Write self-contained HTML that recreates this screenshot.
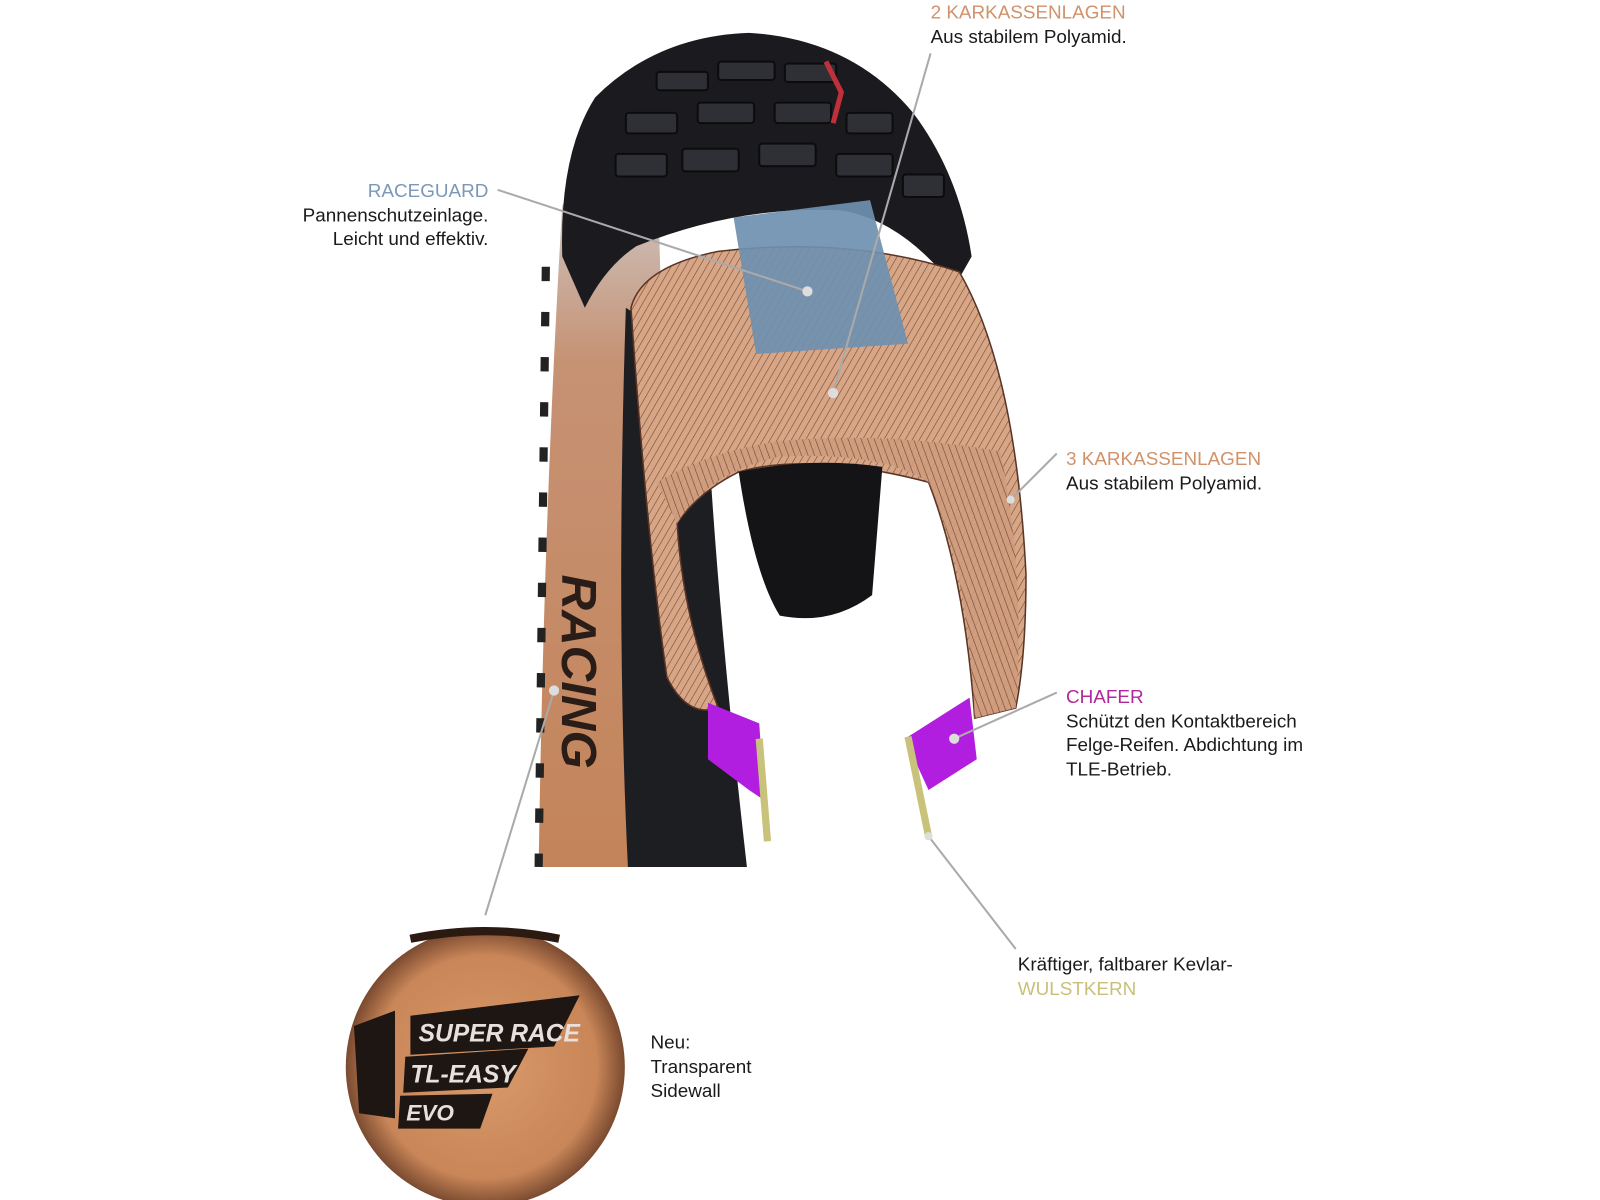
<!DOCTYPE html>
<html><head><meta charset="utf-8"><style>
html,body{margin:0;padding:0;background:#fff;}
.o{width:1600px;height:1200px;overflow:hidden;position:relative;}
.w{position:absolute;left:0;top:0;width:1600px;height:1200px;transform:scale(1.026);transform-origin:0 0;font-family:"Liberation Sans",sans-serif;}
svg{position:absolute;left:0;top:0;}
.t{position:absolute;font-size:18.4px;line-height:23.5px;color:#1a1a1a;white-space:nowrap;}
</style></head><body><div class="o"><div class="w">
<svg width="1600" height="1200" viewBox="0 0 1600 1200">
<defs>
<linearGradient id="side" x1="0" y1="0" x2="0" y2="1">
<stop offset="0" stop-color="#cfd3d8"/><stop offset="0.3" stop-color="#c69274"/><stop offset="1" stop-color="#c4845a"/></linearGradient>
<pattern id="hatch" width="6" height="6" patternUnits="userSpaceOnUse" patternTransform="rotate(30)">
<rect width="6" height="6" fill="#d7a687"/><line x1="0" y1="0" x2="0" y2="6" stroke="#7a4a35" stroke-width="1.2"/></pattern>
<pattern id="hatch2" width="6" height="6" patternUnits="userSpaceOnUse" patternTransform="rotate(-20)">
<rect width="6" height="6" fill="#cf9c7e"/><line x1="0" y1="0" x2="0" y2="6" stroke="#6a3e2c" stroke-width="1.2"/></pattern>
<radialGradient id="ins" cx="0.5" cy="0.5" r="0.5"><stop offset="0" stop-color="#d99a6a"/><stop offset="0.8" stop-color="#c98658"/><stop offset="1" stop-color="#7a4a30"/></radialGradient>
</defs>
<path d="M548 200 Q585 150 640 140 L660 845 L525 845 Q530 500 548 200 Z" fill="url(#side)"/>
<path d="M532 260 L525 845" stroke="#222" stroke-width="8" stroke-dasharray="14 30"/>
<path d="M610 300 Q600 600 612 845 L728 845 Q700 600 690 420 Q660 330 610 300 Z" fill="#1d1e22"/>
<text x="0" y="0" transform="translate(548,560) rotate(90)" font-family="Liberation Sans" font-weight="bold" font-style="italic" font-size="48" fill="#2a1d18">RACING</text>
<path d="M548 250 Q545 150 580 95 Q640 35 730 32 Q830 38 890 110 Q935 170 947 250 L930 280 Q880 215 820 205 Q720 200 620 240 Q590 260 570 300 Z" fill="#1b1b1f"/>
<g fill="#2e3036" stroke="#0c0c0e" stroke-width="2">
<rect x="640" y="70" width="50" height="18" rx="3"/><rect x="700" y="60" width="55" height="18" rx="3"/><rect x="765" y="62" width="50" height="18" rx="3"/>
<rect x="610" y="110" width="50" height="20" rx="3"/><rect x="680" y="100" width="55" height="20" rx="3"/><rect x="755" y="100" width="55" height="20" rx="3"/><rect x="825" y="110" width="45" height="20" rx="3"/>
<rect x="600" y="150" width="50" height="22" rx="3"/><rect x="665" y="145" width="55" height="22" rx="3"/><rect x="740" y="140" width="55" height="22" rx="3"/><rect x="815" y="150" width="55" height="22" rx="3"/><rect x="880" y="170" width="40" height="22" rx="3"/>
</g>
<path d="M805 60 L820 90 L812 120" stroke="#c0303a" stroke-width="5" fill="none"/>
<path d="M615 300 Q625 260 700 245 Q830 230 935 265 Q990 360 1000 560 Q1000 640 990 690 L950 700 Q940 560 905 470 Q790 440 720 460 Q680 480 660 510 Q665 600 700 690 Q670 700 650 660 Q630 520 615 300 Z" fill="url(#hatch)" stroke="#5a3526" stroke-width="1.5"/>
<path d="M660 510 Q690 460 760 445 Q860 440 905 470 Q945 560 950 700 L990 690 Q1000 560 975 440 Q860 420 760 430 Q690 440 640 470 Z" fill="url(#hatch2)" opacity="0.9"/>
<path d="M720 460 Q790 445 860 455 L850 580 Q810 610 760 600 Q735 560 720 460 Z" fill="#141416"/>
<path d="M715 212 L848 195 L885 335 L737 345 Z" fill="#6f90b0" opacity="0.92"/>
<path d="M690 685 L740 705 L745 780 L730 770 L690 740 Z" fill="#b21ee0"/>
<path d="M882 720 L945 680 L952 740 L905 770 Z" fill="#b21ee0"/>
<line x1="740" y1="720" x2="748" y2="820" stroke="#c8c27a" stroke-width="7"/>
<line x1="885" y1="718" x2="905" y2="815" stroke="#c8c27a" stroke-width="7"/>
<g stroke="#aaa" stroke-width="2" fill="none">
<line x1="485" y1="185" x2="787" y2="284"/>
<line x1="907" y1="52" x2="812" y2="383"/>
<line x1="1030" y1="442" x2="985" y2="487"/>
<line x1="1030" y1="675" x2="930" y2="720"/>
<line x1="905" y1="815" x2="990" y2="925"/>
<line x1="540" y1="673" x2="473" y2="892"/>
</g>
<g fill="#ddd"><circle cx="787" cy="284" r="5"/><circle cx="812" cy="383" r="5"/><circle cx="985" cy="487" r="4"/><circle cx="930" cy="720" r="5"/><circle cx="905" cy="815" r="4"/><circle cx="540" cy="673" r="5"/></g>
<circle cx="473" cy="1040" r="136" fill="url(#ins)"/>
<path d="M345 1000 L385 985 L385 1090 L350 1085 Z" fill="#1e1612"/>
<path d="M400 990 L565 970 L540 1020 L400 1028 Z" fill="#1e1612"/>
<path d="M395 1030 L515 1022 L495 1060 L393 1065 Z" fill="#1e1612"/>
<path d="M390 1068 L480 1066 L468 1100 L388 1100 Z" fill="#1e1612"/>
<text x="408" y="1015" font-family="Liberation Sans" font-weight="bold" font-style="italic" font-size="24" fill="#e8e0dc">SUPER RACE</text>
<text x="400" y="1055" font-family="Liberation Sans" font-weight="bold" font-style="italic" font-size="24" fill="#e8e0dc">TL-EASY</text>
<text x="396" y="1092" font-family="Liberation Sans" font-weight="bold" font-style="italic" font-size="22" fill="#e8e0dc">EVO</text>
<path d="M400 915 Q473 900 545 915" stroke="#2a1a12" stroke-width="8" fill="none"/>
</svg>
<div class="t" style="left:907px;top:0px;"><span style="color:#d0926a">2 KARKASSENLAGEN</span><br>Aus stabilem Polyamid.</div>
<div class="t" style="left:276px;top:174px;text-align:right;width:200px;"><span style="color:#7a98b8">RACEGUARD</span><br>Pannenschutzeinlage.<br>Leicht und effektiv.</div>
<div class="t" style="left:1039px;top:435px;"><span style="color:#d0926a">3 KARKASSENLAGEN</span><br>Aus stabilem Polyamid.</div>
<div class="t" style="left:1039px;top:667px;"><span style="color:#b0289a">CHAFER</span><br>Schützt den Kontaktbereich<br>Felge-Reifen. Abdichtung im<br>TLE-Betrieb.</div>
<div class="t" style="left:992px;top:928px;">Kräftiger, faltbarer Kevlar-<br><span style="color:#c8c07a">WULSTKERN</span></div>
<div class="t" style="left:634px;top:1004px;">Neu:<br>Transparent<br>Sidewall</div>
</div></div></body></html>
